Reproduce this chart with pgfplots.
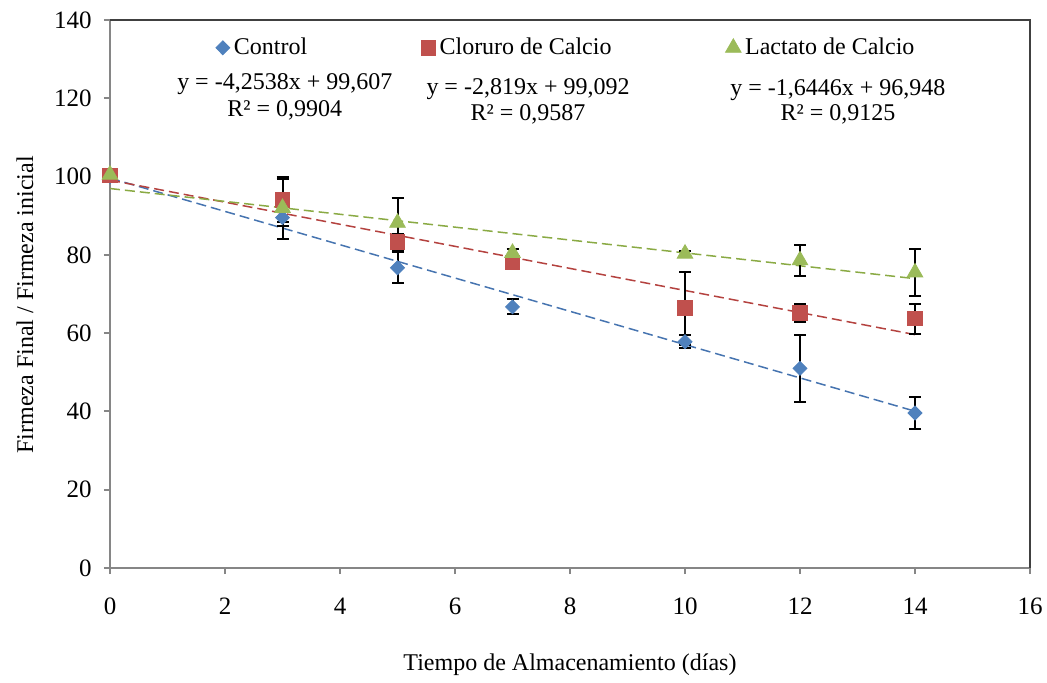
\documentclass[border=0pt]{standalone}
\usepackage{pgfplots}
\pgfplotsset{compat=1.18}
\usepackage{fontspec}
\setmainfont{Liberation Serif}
\definecolor{cblue}{HTML}{4F81BD}
\definecolor{cred}{HTML}{C0504D}
\definecolor{cgreen}{HTML}{9BBB59}
\definecolor{tblue}{HTML}{4674B0}
\definecolor{tred}{HTML}{B4423F}
\definecolor{tgreen}{HTML}{8AAA44}
\definecolor{axgray}{HTML}{868686}
\begin{document}
\fontsize{12}{14}\selectfont
\begin{tikzpicture}
\begin{axis}[
  scale only axis,
  width=460pt, height=274pt,
  xmin=0, xmax=16, ymin=0, ymax=140,
  xtick={0,2,...,16}, ytick={0,20,...,140},
  axis x line*=bottom, axis y line*=left,
  axis line style={axgray, line width=1pt, -},
  tick style={axgray, line width=1pt},
  tick align=outside, major tick length=3pt,
  /pgf/number format/assume math mode=true,
  ticklabel style={font=\fontsize{12.5}{14}\selectfont},
  xticklabel style={anchor=center, yshift=-16pt},
  yticklabel style={anchor=east, xshift=-2pt},
  xlabel={Tiempo de Almacenamiento (días)},
  ylabel={Firmeza Final / Firmeza inicial},
  xlabel style={at={(axis description cs:0.5,-0.177)}, anchor=center},
  ylabel style={at={(axis description cs:-0.0924,0.48)}, anchor=center},
  label style={font=\fontsize{12}{14}\selectfont},
  clip=false,
  legend columns=3,
  legend style={at={(axis cs:7.95,132.9)}, anchor=center, draw=none, fill=none,
    font=\fontsize{12}{14}\selectfont,
    /tikz/every even column/.append style={column sep=55pt}},
  legend image code/.code={\draw[mark repeat=2,mark phase=2,#1] plot coordinates {(0cm,0cm) (0.12cm,0cm) (0.24cm,0cm)};},
]
% trend lines
\addplot[tblue, dash pattern=on 5pt off 2.5pt, line width=0.75pt, forget plot] coordinates {(0,99.607) (14,40.054)};
\addplot[tred, dash pattern=on 5pt off 2.5pt, line width=0.75pt, forget plot] coordinates {(0,99.092) (14,59.626)};
\addplot[tgreen, dash pattern=on 5pt off 2.5pt, line width=0.75pt, forget plot] coordinates {(0,96.948) (14,73.924)};
% day 0 points (no error bars)
\addplot[only marks, mark=diamond*, mark size=3.5pt, mark options={xscale=1.33, fill=cblue, draw=cblue}, forget plot] coordinates {(0,100)};
\addplot[only marks, mark=square*, mark size=3.6pt, mark options={fill=cred, draw=cred}, forget plot] coordinates {(0,100.3)};
\addplot[only marks, mark=triangle*, mark size=4.5pt, mark options={fill=cgreen, draw=cgreen}, forget plot] coordinates {(0,100.5)};
% series
\addplot[only marks, mark=diamond*, mark size=3.5pt, mark options={xscale=1.33, fill=cblue, draw=cblue},
  error bars/.cd, y dir=both, y explicit, error bar style={black, line width=1pt},
  error mark options={black, rotate=90, mark size=3pt, line width=1pt}]
  coordinates {(3,89.5) +- (0,2) (5,76.7) +- (0,4) (7,66.7) +- (0,1.9) (10,57.8) +- (0,1.7) (12,51.0) +- (0,8.5) (14,39.6) +- (0,4.2)};
\addlegendentry{Control}
\addplot[only marks, mark=square*, mark size=3.6pt, mark options={fill=cred, draw=cred},
  error bars/.cd, y dir=both, y explicit, error bar style={black, line width=1pt},
  error mark options={black, rotate=90, mark size=3pt, line width=1pt}]
  coordinates {(3,94.0) +- (0,5.5) (5,83.3) +- (0,2) (7,78.0) +- (0,1) (10,66.4) +- (0,9.3) (12,65.2) +- (0,2.3) (14,63.7) +- (0,3.8)};
\addlegendentry{Cloruro de Calcio}
\addplot[only marks, mark=triangle*, mark size=4.5pt, mark options={fill=cgreen, draw=cgreen},
  error bars/.cd, y dir=both, y explicit, error bar style={black, line width=1pt},
  error mark options={black, rotate=90, mark size=3pt, line width=1pt}]
  coordinates {(3,92.0) +- (0,8) (5,88.2) +- (0,6.2) (7,80.5) +- (0,1) (10,80.3) +- (0,0.8) (12,78.6) +- (0,4) (14,75.5) +- (0,6)};
\addlegendentry{Lactato de Calcio}
% equations
\node[font=\fontsize{12}{14}\selectfont] at (axis cs:3.04,123.7) {y = -4,2538x + 99,607};
\node[font=\fontsize{12}{14}\selectfont] at (axis cs:3.04,117.0) {R² = 0,9904};
\node[font=\fontsize{12}{14}\selectfont] at (axis cs:7.27,122.4) {y = -2,819x + 99,092};
\node[font=\fontsize{12}{14}\selectfont] at (axis cs:7.27,116.0) {R² = 0,9587};
\node[font=\fontsize{12}{14}\selectfont] at (axis cs:12.66,122.1) {y = -1,6446x + 96,948};
\node[font=\fontsize{12}{14}\selectfont] at (axis cs:12.66,115.8) {R² = 0,9125};
\end{axis}
\draw[black!75, line width=0.8pt] (0,274pt) -- (460pt,274pt) -- (460pt,0);
\pgfresetboundingbox
\path[use as bounding box] (-55pt,-57pt) rectangle (468.5pt,284pt);
\end{tikzpicture}
\end{document}
